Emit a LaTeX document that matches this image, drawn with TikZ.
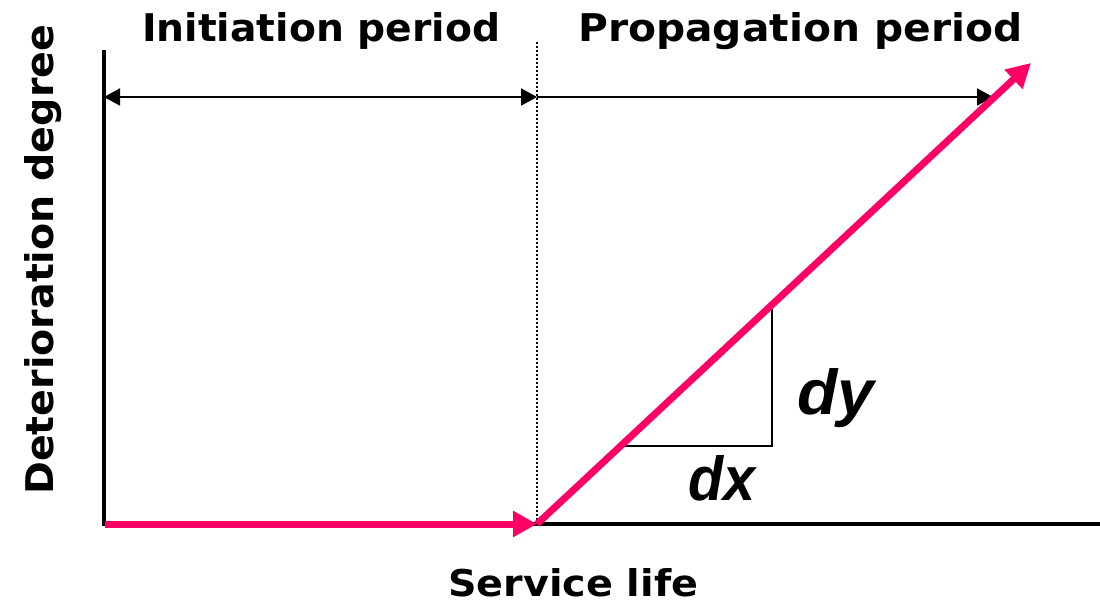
\documentclass[tikz,border=0pt]{standalone}
\usepackage{fontspec}
\setmainfont{DejaVu Sans}
\newfontfamily\slopefont{Liberation Sans}
\usetikzlibrary{arrows.meta}
\definecolor{pinkline}{RGB}{255,0,102}
\newcommand{\fitlbl}[3]{\resizebox{#1}{#2}{\bfseries #3}}
\tikzset{
  axisline/.style={line width=3.5pt, black},
  pinkarrow/.style={line width=7pt, pinkline, -{Triangle[length=24pt,width=25pt]}},
  dimline/.style={line width=2pt, black},
  dimtip/.tip={Triangle[length=16pt,width=17pt]},
  lbl/.style={inner sep=0pt, text=black},
}
\begin{document}
\begin{tikzpicture}[x=1pt,y=-1pt]
\useasboundingbox (0,0) rectangle (1100,606);
% coordinates
\coordinate (ytop) at (104,52);
\coordinate (origin) at (104,524);
\coordinate (xend) at (1100,524);
\coordinate (pstart) at (105,524);
\coordinate (mid) at (537,524);
\coordinate (tip) at (1031,63);
\coordinate (dottop) at (537,42);
\coordinate (dimL) at (104,97);
\coordinate (dimM) at (537,97);
\coordinate (dimR) at (993,97);
\coordinate (tA) at (623,446);
\coordinate (tB) at (772,446);
\coordinate (tC) at (772,308);
% axes
\draw[axisline, line cap=rect] (ytop) -- (origin) -- (xend);
% dotted divider
\draw[line width=2pt, dash pattern=on 2pt off 2pt] (dottop) -- (mid);
% dimension arrows
\draw[dimline, dimtip-dimtip] (dimL) -- (dimM);
\draw[dimline, -dimtip] (dimM) -- (dimR);
% slope triangle
\draw[line width=2pt] (tA) -- (tB) -- (tC);
% pink curves
\draw[pinkarrow] (pstart) -- (mid);
\draw[pinkarrow] (mid) -- (tip);
% labels
\node[lbl, anchor=base west] (init) at (142,41) {\fitlbl{358pt}{29pt}{Initiation period}};
\node[lbl, anchor=base west] (prop) at (578,41) {\fitlbl{444pt}{29pt}{Propagation period}};
\node[lbl, anchor=base west] (serv) at (448,596) {\fitlbl{250pt}{28pt}{Service life}};
\node[lbl, anchor=base west, rotate=90] (det) at (53,495) {\fitlbl{470pt}{29pt}{Deterioration degree}};
\node[lbl, anchor=base west] (dx) at (688,500) {\fitlbl{67pt}{45pt}{\slopefont\itshape dx}};
\node[lbl, anchor=base west] (dy) at (797,414) {\fitlbl{77pt}{46pt}{\slopefont\itshape dy}};
\end{tikzpicture}
\end{document}
